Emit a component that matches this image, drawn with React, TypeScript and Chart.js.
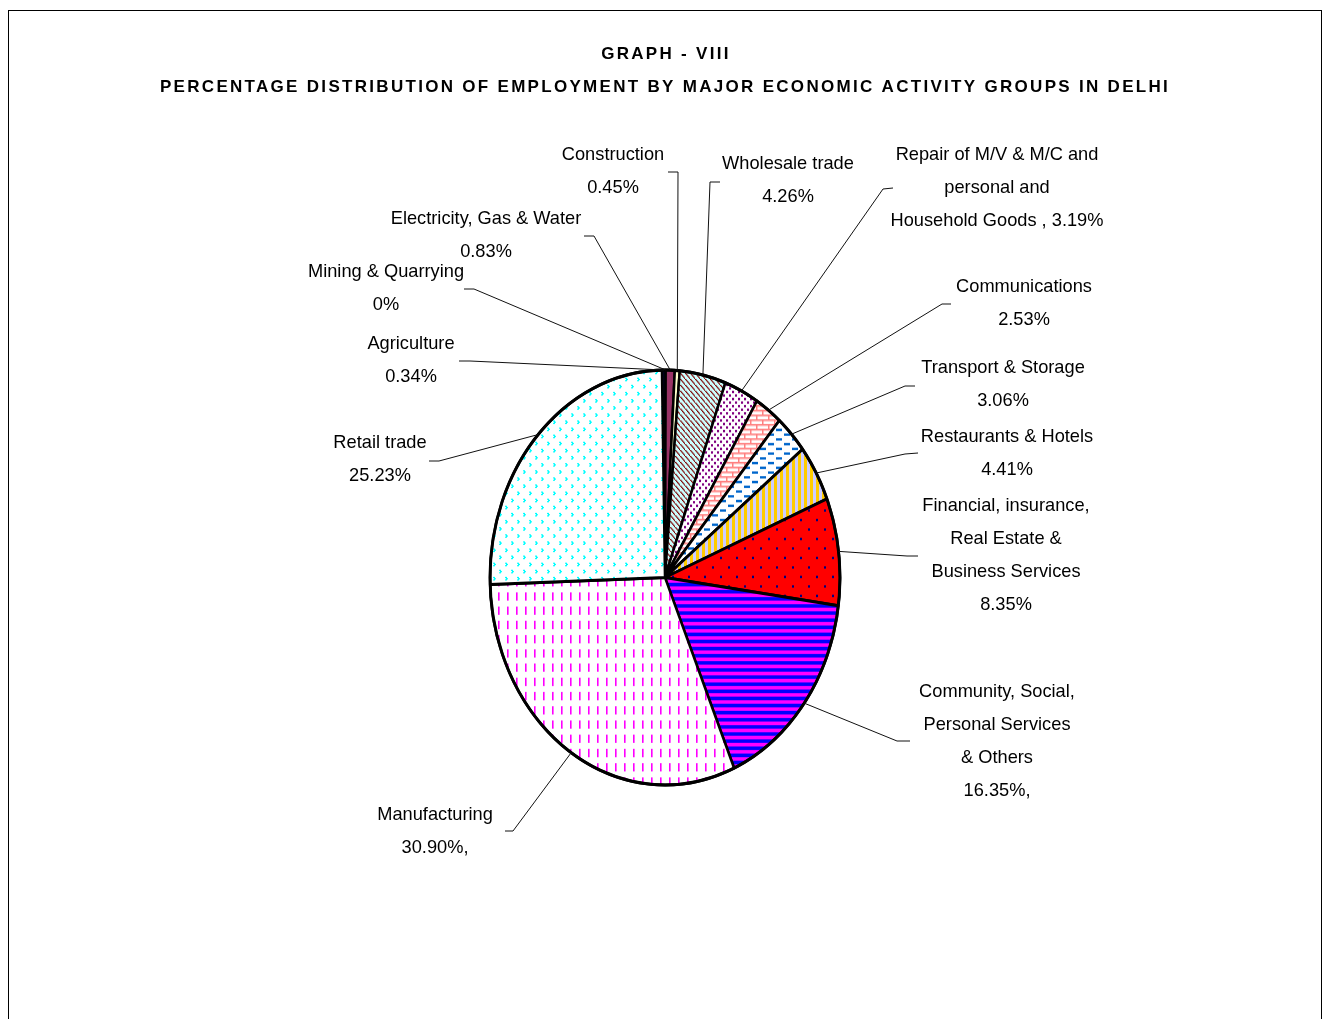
import React, { useEffect, useRef } from "react";
import { Chart, registerables } from "chart.js";
Chart.register(...registerables);

const titleLines = [
  "GRAPH - VIII",
  "PERCENTAGE DISTRIBUTION OF EMPLOYMENT BY MAJOR ECONOMIC ACTIVITY GROUPS IN DELHI",
];

const categories = [
  "Agriculture",
  "Mining & Quarrying",
  "Electricity, Gas & Water",
  "Construction",
  "Wholesale trade",
  "Repair of M/V & M/C and personal and Household Goods",
  "Communications",
  "Transport & Storage",
  "Restaurants & Hotels",
  "Financial, insurance, Real Estate & Business Services",
  "Community, Social, Personal Services & Others",
  "Manufacturing",
  "Retail trade",
];

const values = [0.34, 0, 0.83, 0.45, 4.26, 3.19, 2.53, 3.06, 4.41, 8.35, 16.35, 30.9, 25.23];

const valueLabels = ["0.34%", "0%", "0.83%", "0.45%", "4.26%", "3.19%", "2.53%", "3.06%", "4.41%", "8.35%", "16.35%,", "30.90%,", "25.23%"];

const labelLines = [
  ["Agriculture"],
  ["Mining & Quarrying"],
  ["Electricity, Gas & Water"],
  ["Construction"],
  ["Wholesale trade"],
  ["Repair of M/V & M/C and", "personal and", "Household Goods ,"],
  ["Communications"],
  ["Transport & Storage"],
  ["Restaurants & Hotels"],
  ["Financial, insurance,", "Real Estate &", "Business Services"],
  ["Community, Social,", "Personal Services", "& Others"],
  ["Manufacturing"],
  ["Retail trade"],
];

// whether the value is appended to the last text line
const valueInline = [false, false, false, false, false, true, false, false, false, false, false, false, false];

// layout: text centre (first line) and leader elbow points
const labelPos = [
  [411, 344], [386, 272], [486, 219], [613, 155], [788, 164], [997, 155], [1024, 287],
  [1003, 368], [1007, 437], [1006, 506], [997, 692], [435, 815], [380, 443],
];
const leaderPts = [
  [459, 361, 470, 361], [464, 289, 474, 289], [584, 236, 594, 236], [668, 172, 678, 172],
  [720, 182, 710, 182], [893, 188, 883, 189], [951, 304, 942, 304], [915, 386, 905, 386],
  [918, 453, 905, 454], [918, 556, 907, 556], [910, 741, 897, 741], [505, 831, 513, 831],
  [429, 461, 439, 461],
];

const RX = 175;
const RY = 207.5;
const SY = RY / RX;
const LINE_H = 33;
const TEXT_SCALE = 0.96;

function tile(w: number, h: number, bg: string | null, draw: (c: CanvasRenderingContext2D) => void) {
  const cv = document.createElement("canvas");
  cv.width = w;
  cv.height = h;
  const c = cv.getContext("2d")!;
  if (bg) {
    c.fillStyle = bg;
    c.fillRect(0, 0, w, h);
  }
  draw(c);
  return cv;
}

function makeFills(ctx: CanvasRenderingContext2D) {
  const p = (cv: HTMLCanvasElement) => ctx.createPattern(cv, "repeat")!;
  const wholesale = p(tile(5, 5, "#CCFFFF", (c) => {
    c.fillStyle = "#800000";
    for (let i = 0; i < 5; i++) c.fillRect(i, i, 1.5, 1);
  }));
  const repair = p(tile(6, 6, "#FFFFFF", (c) => {
    c.fillStyle = "#800080";
    c.fillRect(0, 0, 2, 2);
    c.fillRect(3, 3, 2, 2);
  }));
  const comm = p(tile(12, 8, "#FFFFFF", (c) => {
    c.fillStyle = "#FF8080";
    c.fillRect(0, 0, 12, 1.5);
    c.fillRect(0, 4, 12, 1.5);
    c.fillRect(0, 0, 1.5, 4);
    c.fillRect(6, 4, 1.5, 4);
  }));
  const transport = p(tile(16, 8, "#FFFFFF", (c) => {
    c.fillStyle = "#0066CC";
    c.fillRect(0, 0, 6, 2);
    c.fillRect(8, 4, 6, 2);
  }));
  const rest = p(tile(6, 1, "#CCCCFF", (c) => {
    c.fillStyle = "#FFCC00";
    c.fillRect(0, 0, 3, 1);
  }));
  const fin = p(tile(16, 16, "#FF0000", (c) => {
    c.fillStyle = "#000080";
    c.fillRect(0, 0, 2, 2);
    c.fillRect(8, 8, 2, 2);
  }));
  const community = p(tile(1, 6, "#0000FF", (c) => {
    c.fillStyle = "#FF00FF";
    c.fillRect(0, 3, 1, 3);
  }));
  const manu = p(tile(9, 12, "#FFFFFF", (c) => {
    c.fillStyle = "#FF00FF";
    c.fillRect(3, 2, 1.6, 7);
  }));
  const retail = p(tile(12, 12, "#FFFFFF", (c) => {
    c.fillStyle = "#00FFFF";
    const mark = (x: number, y: number) => {
      c.fillRect(x, y, 2, 1);
      c.fillRect(x + 1, y + 1, 2, 1);
      c.fillRect(x, y + 2, 2, 1);
    };
    mark(1, 1);
    mark(7, 7);
  }));
  return [
    "#000033",
    "#000000",
    "#993366",
    "#FFFFCC",
    wholesale,
    repair,
    comm,
    transport,
    rest,
    fin,
    community,
    manu,
    retail,
  ];
}

function drawText(ctx: CanvasRenderingContext2D, t: string, x: number, y: number) {
  ctx.save();
  ctx.translate(x, y);
  ctx.scale(TEXT_SCALE, 1);
  ctx.fillText(t, 0, 0);
  ctx.restore();
}

const piePlugin = {
  id: "ellipsePie",
  beforeDraw(chart: any) {
    const ctx = chart.ctx;
    ctx.save();
    ctx.fillStyle = "#FFFFFF";
    ctx.fillRect(0, 0, chart.width, chart.height);
    ctx.strokeStyle = "#000000";
    ctx.lineWidth = 1;
    ctx.strokeRect(8.5, 10.5, 1313, 1100);
    // titles
    ctx.fillStyle = "#000000";
    ctx.font = 'bold 17px "Liberation Sans", Arial, sans-serif';
    (ctx as any).letterSpacing = "2.3px";
    ctx.textAlign = "center";
    ctx.textBaseline = "middle";
    ctx.fillText(titleLines[0], 666, 54);
    ctx.fillText(titleLines[1], 665, 87);
    ctx.restore();
  },
  beforeDatasetsDraw(chart: any) {
    const ctx = chart.ctx;
    const a = chart.getDatasetMeta(0).data[0];
    ctx.save();
    ctx.translate(a.x, a.y);
    ctx.scale(1, SY);
    ctx.translate(-a.x, -a.y);
  },
  afterDatasetsDraw(chart: any) {
    const ctx = chart.ctx;
    ctx.restore();
    const meta = chart.getDatasetMeta(0);
    const a0 = meta.data[0];
    const cx = a0.x;
    const cy = a0.y;
    const R = a0.outerRadius;
    // outline
    ctx.save();
    ctx.beginPath();
    ctx.ellipse(cx, cy, R, R * SY, 0, 0, Math.PI * 2);
    ctx.lineWidth = 3;
    ctx.strokeStyle = "#000000";
    ctx.stroke();
    // leaders + labels
    ctx.lineWidth = 1;
    ctx.strokeStyle = "#111111";
    ctx.fillStyle = "#000000";
    ctx.font = '19px "Liberation Sans", Arial, sans-serif';
    ctx.textAlign = "center";
    ctx.textBaseline = "middle";
    meta.data.forEach((arc: any, i: number) => {
      const mid = (arc.startAngle + arc.endAngle) / 2;
      const ax = cx + R * Math.cos(mid);
      const ay = cy + R * SY * Math.sin(mid);
      const [sx, sy, ex, ey] = leaderPts[i];
      ctx.beginPath();
      ctx.moveTo(sx, sy);
      ctx.lineTo(ex, ey);
      ctx.lineTo(ax, ay);
      ctx.stroke();
      const lines = [...labelLines[i]];
      if (valueInline[i]) lines[lines.length - 1] = lines[lines.length - 1] + " " + valueLabels[i];
      else lines.push(valueLabels[i]);
      const [lx, ly] = labelPos[i];
      lines.forEach((t, k) => drawText(ctx, t, lx, ly + k * LINE_H));
    });
    ctx.restore();
  },
};

export default function App() {
  const ref = useRef<HTMLCanvasElement | null>(null);
  useEffect(() => {
    const canvas = ref.current!;
    const fills = makeFills(canvas.getContext("2d")!);
    const chart = new Chart(canvas, {
      type: "pie",
      data: {
        labels: categories,
        datasets: [
          {
            data: values,
            backgroundColor: fills as any,
            borderColor: "#000000",
            borderWidth: 2.5,
            hoverOffset: 0,
          },
        ],
      },
      options: {
        responsive: false,
        animation: false,
        devicePixelRatio: 1,
        events: [],
        rotation: -1,
        radius: RX,
        layout: { padding: { left: 400, right: 397, top: 300, bottom: 164 } },
        plugins: {
          legend: { display: false },
          title: { display: false },
          tooltip: { enabled: false },
        },
      } as any,
      plugins: [piePlugin as any],
    });
    return () => chart.destroy();
  }, []);
  return (
    <div style={{ position: "absolute", left: 0, top: 0, width: 1327, height: 1019, overflow: "hidden" }}>
      <canvas ref={ref} width={1327} height={1019} style={{ display: "block" }} />
    </div>
  );
}
